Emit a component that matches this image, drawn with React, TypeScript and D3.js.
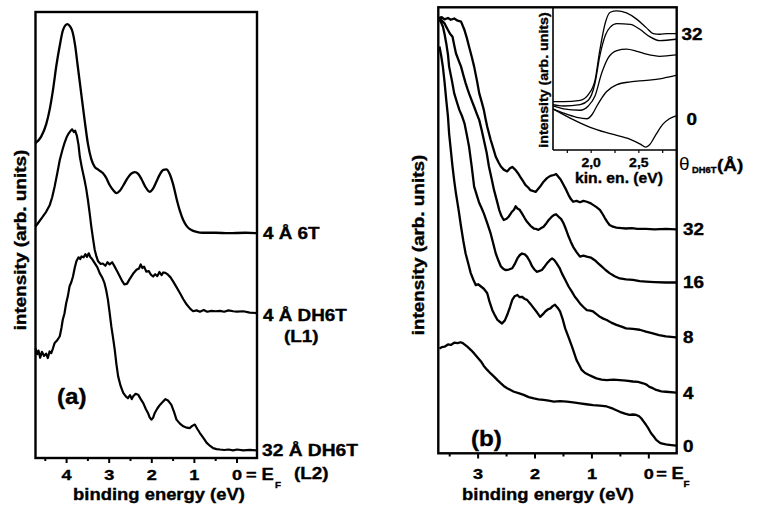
import React from "react";
import * as d3 from "d3";

// panel (a): binding energy (eV), intensity (arb.)
const a6T: [number, number][] = [
  [4.73, 70.6], [4.6, 72], [4.48, 74.8], [4.4, 78], [4.32, 82.5], [4.24, 88], [4.16, 92.5], [4.09, 95.8],
  [4.03, 97.0], [3.98, 97.3], [3.92, 96.8], [3.86, 95.5], [3.8, 92.5], [3.74, 88], [3.66, 82], [3.58, 76],
  [3.5, 70.5], [3.42, 67], [3.34, 65.3], [3.25, 64.6], [3.15, 63.9], [3.07, 62.8], [2.99, 61.2], [2.9, 60],
  [2.83, 59.4], [2.75, 59.9], [2.67, 61.1], [2.58, 62.6], [2.49, 63.7], [2.40, 64.1], [2.32, 63.7],
  [2.24, 62.5], [2.15, 60.8], [2.05, 59.7], [1.97, 60.4], [1.89, 62], [1.81, 63.6], [1.73, 64.6],
  [1.66, 64.7], [1.58, 63.7], [1.5, 61.4], [1.42, 58.2], [1.34, 55.4], [1.26, 53.3], [1.18, 52],
  [1.07, 51.1], [0.95, 50.7], [0.8, 50.5], [0.5, 50.5], [0.2, 50.4], [-0.2, 50.5], [-0.47, 50.4],
];

const aL1: [number, number][] = [
  [4.73, 51.9], [4.66, 52.8], [4.56, 54.1], [4.48, 55.2], [4.40, 56.6], [4.34, 58.4], [4.28, 60.9],
  [4.22, 63.8], [4.16, 66.8], [4.1, 69], [4.05, 70.6], [4.0, 71.9], [3.95, 72.8], [3.91, 73.3],
  [3.87, 73.7], [3.83, 73.1], [3.80, 73.4], [3.76, 72.3], [3.72, 70.2], [3.69, 67.6], [3.64, 65],
  [3.58, 62.4], [3.54, 60.4], [3.50, 57.9], [3.46, 55], [3.42, 51.9], [3.38, 49.2], [3.34, 46.7],
  [3.30, 45.2], [3.26, 44.1], [3.20, 43.5], [3.15, 43.6], [3.09, 43.1], [3.04, 43.9], [2.99, 43.4],
  [2.93, 43.9], [2.87, 42.9], [2.81, 41.8], [2.75, 40.7], [2.69, 39.6], [2.64, 38.9], [2.58, 39.1],
  [2.52, 40.1], [2.44, 41.3], [2.36, 42.2], [2.30, 42.5], [2.26, 43.4], [2.22, 42.6], [2.18, 42.9],
  [2.13, 41.8], [2.07, 41.9], [2.02, 41.1], [1.97, 40.7], [1.92, 41.2], [1.87, 40.8], [1.82, 41.7],
  [1.77, 41.0], [1.73, 41.6], [1.68, 41.5], [1.62, 41.1], [1.56, 40.5], [1.50, 39.6], [1.42, 38.3],
  [1.34, 37.0], [1.26, 35.6], [1.18, 34.4], [1.1, 33.5], [1.03, 32.9], [0.95, 33.1], [0.87, 32.8],
  [0.78, 33.2], [0.7, 32.8], [0.6, 33.0], [0.5, 32.9], [0.4, 33.0], [0.3, 32.8], [0.2, 33.1],
  [0.09, 32.9], [0.0, 32.8], [-0.15, 32.9], [-0.3, 32.6], [-0.47, 32.5],
];

const aL2: [number, number][] = [
  [4.73, 24.6], [4.69, 23.3], [4.66, 24.1], [4.62, 22.5], [4.58, 23.8], [4.53, 22.9], [4.48, 23.4],
  [4.44, 22.4], [4.40, 23.9], [4.36, 23.5], [4.32, 24.6], [4.28, 25.8], [4.22, 26.4], [4.16, 27.3],
  [4.12, 29.2], [4.09, 31.0], [4.05, 32.4], [4.01, 34.7], [3.97, 36.3], [3.93, 38.5], [3.89, 39.4],
  [3.85, 40.7], [3.81, 42.6], [3.77, 44.1], [3.72, 45.0], [3.68, 44.6], [3.65, 45.2], [3.6, 45.0],
  [3.56, 45.7], [3.52, 45.1], [3.48, 45.9], [3.44, 45.0], [3.40, 44.6], [3.34, 43.7], [3.28, 42.8],
  [3.22, 41.4], [3.16, 40.4], [3.11, 39.2], [3.07, 37.6], [3.03, 35.5], [2.99, 32.6], [2.95, 29.5],
  [2.91, 27.0], [2.87, 24.3], [2.83, 21.0], [2.79, 18.3], [2.73, 16.1], [2.67, 14.6], [2.61, 13.8],
  [2.56, 13.4], [2.51, 14.1], [2.47, 13.2], [2.44, 13.8], [2.38, 14.4], [2.32, 14.2], [2.26, 13.2],
  [2.20, 12.3], [2.14, 11.0], [2.09, 10.1], [2.05, 9.1], [2.01, 8.6], [1.97, 9.0], [1.93, 10.1],
  [1.87, 11.1], [1.81, 11.9], [1.74, 12.6], [1.68, 13.2], [1.62, 12.9], [1.58, 12.4], [1.54, 11.9],
  [1.48, 10.4], [1.42, 8.6], [1.34, 7.7], [1.26, 7.1], [1.18, 6.8], [1.11, 6.7], [1.05, 7.2],
  [0.99, 7.5], [0.93, 6.5], [0.87, 5.6], [0.79, 4.5], [0.71, 3.4], [0.63, 2.7], [0.56, 2.2],
  [0.48, 2.0], [0.40, 1.9], [0.3, 1.8], [0.2, 1.9], [0.09, 1.7], [0.0, 1.9], [-0.15, 1.7],
  [-0.3, 1.8], [-0.47, 1.7],
];

// panel (b): one spectrum per DH6T coverage
const b32: [number, number][] = [
  [3.68, 97.2], [3.64, 97.8], [3.59, 97.3], [3.53, 97.6], [3.48, 97.2], [3.42, 97.5], [3.36, 97.0],
  [3.30, 96.8], [3.24, 94.9], [3.2, 93.2], [3.16, 91.2], [3.11, 88.8], [3.07, 86.7], [3.02, 83.5],
  [2.98, 80.7], [2.94, 78.9], [2.90, 77.0], [2.87, 75.0], [2.84, 73.2], [2.78, 70.3], [2.73, 68.2],
  [2.69, 66.5], [2.64, 65.2], [2.60, 64.3], [2.55, 63.6], [2.49, 63.2], [2.44, 63.9], [2.40, 64.2],
  [2.34, 63.5], [2.30, 62.8], [2.26, 62.0], [2.21, 61.0], [2.17, 60.2], [2.12, 59.6], [2.08, 59.0],
  [2.03, 58.8], [1.99, 58.6], [1.95, 59.2], [1.91, 59.8], [1.85, 60.9], [1.79, 61.7], [1.73, 62.2],
  [1.67, 62.4], [1.63, 62.6], [1.59, 62.0], [1.55, 61.4], [1.50, 60.2], [1.45, 59.0], [1.41, 57.9],
  [1.37, 57.0], [1.33, 56.4], [1.27, 56.6], [1.21, 56.3], [1.15, 56.6], [1.09, 56.4], [1.03, 56.1],
  [0.98, 55.7], [0.92, 55.2], [0.86, 54.6], [0.81, 53.6], [0.77, 52.7], [0.73, 51.9], [0.69, 51.2],
  [0.63, 50.8], [0.57, 50.6], [0.48, 50.5], [0.40, 50.4], [0.3, 50.5], [0.2, 50.3], [0.05, 50.3],
  [-0.1, 50.2], [-0.3, 50.3], [-0.48, 50.2],
];

const b16: [number, number][] = [
  [3.68, 97.9], [3.64, 97.0], [3.59, 96.4], [3.56, 95.6], [3.53, 94.9], [3.49, 94.0], [3.45, 93.4],
  [3.42, 91.5], [3.39, 89.7], [3.34, 88.0], [3.30, 86.7], [3.26, 84.8], [3.22, 83.0], [3.19, 81.8],
  [3.16, 80.7], [3.11, 79.0], [3.07, 77.7], [3.02, 76.0], [2.98, 74.7], [2.94, 72.6], [2.90, 70.3],
  [2.85, 67.4], [2.81, 64.3], [2.76, 61.4], [2.72, 59.0], [2.67, 56.6], [2.63, 54.6], [2.59, 53.2],
  [2.55, 52.3], [2.50, 52.6], [2.46, 53.1], [2.41, 54.1], [2.37, 54.6], [2.34, 55.4], [2.31, 54.9],
  [2.27, 54.6], [2.23, 53.8], [2.18, 52.7], [2.14, 51.9], [2.08, 51.0], [2.02, 50.4], [1.98, 50.3],
  [1.94, 50.1], [1.89, 50.5], [1.85, 50.8], [1.80, 51.6], [1.76, 52.3], [1.71, 53.0], [1.67, 53.4],
  [1.63, 53.6], [1.59, 53.1], [1.54, 52.5], [1.50, 51.6], [1.45, 50.0], [1.41, 48.6], [1.37, 47.4],
  [1.33, 46.3], [1.27, 45.1], [1.21, 44.1], [1.15, 44.3], [1.09, 44.1], [1.02, 43.9], [0.95, 43.3],
  [0.89, 42.6], [0.83, 41.9], [0.76, 41.1], [0.69, 40.4], [0.6, 39.7], [0.51, 39.2], [0.4, 39.0],
  [0.28, 38.9], [0.16, 38.6], [0.05, 38.5], [-0.1, 38.4], [-0.3, 38.3], [-0.48, 38.3],
];

const b8: [number, number][] = [
  [3.68, 97.2], [3.65, 96.6], [3.62, 95.7], [3.59, 94.0], [3.56, 91.9], [3.53, 89.4], [3.51, 86.7],
  [3.46, 83.5], [3.42, 80.7], [3.37, 78.6], [3.33, 77.0], [3.28, 75.5], [3.24, 74.0], [3.20, 71.5],
  [3.16, 68.8], [3.11, 64.0], [3.07, 59.8], [3.02, 57.7], [2.98, 56.1], [2.94, 55.0], [2.90, 53.8],
  [2.84, 51.6], [2.78, 49.3], [2.73, 46.8], [2.69, 44.8], [2.64, 43.1], [2.60, 41.9], [2.56, 41.4],
  [2.52, 41.1], [2.46, 41.2], [2.40, 41.5], [2.35, 42.6], [2.31, 43.7], [2.27, 44.4], [2.23, 44.8],
  [2.18, 44.6], [2.14, 44.1], [2.09, 43.0], [2.05, 41.9], [2.01, 41.2], [1.97, 40.7], [1.92, 40.9],
  [1.88, 41.1], [1.83, 41.9], [1.79, 42.6], [1.74, 43.3], [1.70, 43.7], [1.66, 43.3], [1.62, 42.6],
  [1.57, 41.6], [1.53, 40.4], [1.47, 38.9], [1.41, 37.4], [1.35, 36.2], [1.30, 35.1], [1.25, 34.3],
  [1.21, 33.6], [1.15, 32.8], [1.09, 32.1], [1.03, 32.0], [0.98, 31.8], [0.92, 31.2], [0.86, 30.6],
  [0.80, 30.2], [0.74, 29.9], [0.66, 29.3], [0.57, 28.8], [0.48, 28.4], [0.40, 28.0], [0.28, 27.9],
  [0.16, 27.7], [0.05, 27.3], [-0.07, 26.9], [-0.18, 26.5], [-0.30, 26.2], [-0.48, 26.0],
];

const b4: [number, number][] = [
  [3.68, 91.2], [3.65, 89.2], [3.62, 86.7], [3.59, 83.2], [3.56, 79.2], [3.53, 75.5], [3.51, 71.7],
  [3.48, 68.0], [3.45, 64.3], [3.42, 61.1], [3.39, 58.3], [3.34, 54.3], [3.30, 50.8], [3.26, 47.6],
  [3.22, 44.8], [3.17, 42.4], [3.13, 40.4], [3.08, 38.8], [3.04, 37.7], [3.0, 37.9], [2.95, 37.4],
  [2.90, 36.9], [2.84, 35.9], [2.80, 34.0], [2.75, 32.1], [2.70, 30.8], [2.66, 29.9], [2.62, 29.5],
  [2.58, 29.1], [2.53, 29.8], [2.49, 31.0], [2.44, 32.8], [2.40, 34.4], [2.36, 35.2], [2.31, 35.5],
  [2.27, 35.0], [2.23, 35.1], [2.18, 34.6], [2.14, 34.4], [2.08, 33.5], [2.02, 32.5], [1.96, 31.5],
  [1.91, 30.6], [1.86, 31.2], [1.82, 31.8], [1.77, 32.3], [1.73, 32.5], [1.69, 33.0], [1.65, 33.3],
  [1.60, 32.6], [1.56, 31.8], [1.51, 29.9], [1.47, 28.0], [1.41, 26.0], [1.35, 23.9], [1.31, 22.4],
  [1.27, 20.9], [1.22, 19.7], [1.18, 18.7], [1.12, 18.0], [1.06, 17.6], [0.99, 17.2], [0.92, 16.8],
  [0.83, 16.5], [0.74, 16.4], [0.62, 16.5], [0.51, 16.4], [0.40, 16.3], [0.28, 16.1], [0.19, 16.0],
  [0.10, 15.7], [0.04, 15.4], [-0.01, 14.9], [-0.07, 14.6], [-0.13, 14.2], [-0.22, 13.9],
  [-0.30, 13.8], [-0.48, 13.6],
];

const b0: [number, number][] = [
  [3.68, 23.5], [3.64, 23.8], [3.59, 23.9], [3.53, 24.4], [3.48, 24.3], [3.42, 24.8], [3.36, 24.7],
  [3.31, 24.9], [3.27, 24.7], [3.23, 24.3], [3.19, 23.9], [3.13, 23.2], [3.07, 22.4], [3.01, 21.5],
  [2.95, 20.6], [2.9, 19.6], [2.84, 18.7], [2.78, 17.9], [2.72, 17.2], [2.66, 16.4], [2.60, 15.7],
  [2.55, 15.1], [2.49, 14.6], [2.43, 14.2], [2.37, 13.8], [2.29, 13.5], [2.20, 13.1], [2.11, 12.6],
  [2.02, 12.3], [1.94, 12.1], [1.85, 12.0], [1.76, 11.8], [1.67, 11.6], [1.56, 11.7], [1.44, 11.6],
  [1.33, 11.4], [1.21, 11.2], [1.10, 11.0], [0.98, 10.8], [0.86, 10.7], [0.74, 10.5], [0.63, 10.0],
  [0.51, 9.3], [0.42, 8.9], [0.34, 8.6], [0.28, 8.7], [0.22, 8.6], [0.17, 8.3], [0.13, 7.8],
  [0.09, 7.1], [0.05, 6.4], [0.0, 5.4], [-0.04, 4.5], [-0.09, 3.7], [-0.13, 3.0], [-0.18, 2.5],
  [-0.22, 2.2], [-0.30, 2.0], [-0.36, 1.9], [-0.48, 1.7],
];

const bSeries = [b32, b16, b8, b4, b0];
const bCoverage = ["32", "16", "8", "4", "0"];

// inset: kinetic energy (eV), intensity (arb.)
const in32: [number, number][] = [
  [1.6, 34], [1.71, 34], [1.885, 35], [1.97, 39], [2.04, 49], [2.09, 70], [2.15, 90], [2.2, 97],
  [2.27, 98], [2.37, 96.5], [2.48, 92], [2.58, 86], [2.65, 82], [2.72, 81.5], [2.8, 82], [2.89, 82],
];
const in16: [number, number][] = [
  [1.6, 32], [1.71, 31], [1.885, 32], [1.97, 35], [2.04, 47], [2.09, 66], [2.15, 81], [2.2, 86.5],
  [2.27, 89], [2.41, 88.5], [2.51, 85], [2.61, 80], [2.72, 77], [2.89, 78],
];
const in8: [number, number][] = [
  [1.6, 31], [1.71, 29], [1.885, 28], [1.97, 31], [2.04, 38], [2.11, 54], [2.18, 65], [2.27, 70],
  [2.37, 71], [2.48, 69.5], [2.58, 67.5], [2.72, 66], [2.89, 67],
];
const in4: [number, number][] = [
  [1.6, 29], [1.71, 26], [1.85, 23], [1.955, 22], [2.01, 25], [2.06, 31], [2.16, 41], [2.27, 46],
  [2.41, 48], [2.58, 49], [2.75, 50.5], [2.89, 52.5],
];
const in0: [number, number][] = [
  [1.6, 29], [1.78, 22.5], [1.99, 16], [2.2, 11.5], [2.41, 7.5], [2.52, 4], [2.57, 2], [2.61, 3.5],
  [2.68, 11], [2.75, 18], [2.82, 22], [2.89, 24],
];
const insetSeries = [in32, in16, in8, in4, in0];

const aTicks = [4, 3, 2, 1, 0];
const bTicks = [3, 2, 1, 0];
const insetTicks = ["2,0", "2,5"];
const aLabels = ["4 Å 6T", "4 Å DH6T", "32 Å DH6T"];

const FONT = "'Liberation Sans', Arial, Helvetica, sans-serif";

function T(props: any) {
  const { x, y, size, sx = 1.18, anchor = "start", rotate = 0, weight = "bold", children } = props;
  return (
    <text
      transform={`translate(${x},${y}) rotate(${rotate}) scale(${sx},1)`}
      fontFamily={FONT}
      fontSize={size}
      fontWeight={weight}
      textAnchor={anchor}
      fill="#000"
      stroke={weight === "bold" ? "#000" : "none"}
      strokeWidth={0.35}
    >
      {children}
    </text>
  );
}

export default function App() {
  // panel (a)
  const xa = d3.scaleLinear().domain([4.73, -0.47]).range([35.5, 257]);
  const ya = d3.scaleLinear().domain([0, 100]).range([458, 12]);
  // panel (b)
  const xb = d3.scaleLinear().domain([3.7, -0.49]).range([438.3, 676.7]);
  const yb = d3.scaleLinear().domain([0, 100]).range([453.3, 7.3]);
  // inset
  const xi = d3.scaleLinear().domain([1.6, 2.9]).range([553, 677]);
  const yi = d3.scaleLinear().domain([0, 100]).range([150, 8]);

  const lineA = d3.line<[number, number]>().x((d) => xa(d[0])).y((d) => ya(d[1]));
  const smoothA = d3.line<[number, number]>().x((d) => xa(d[0])).y((d) => ya(d[1])).curve(d3.curveMonotoneX);
  const lineB = d3.line<[number, number]>().x((d) => xb(d[0])).y((d) => yb(d[1]));
  const lineI = d3
    .line<[number, number]>()
    .x((d) => xi(d[0]))
    .y((d) => yi(d[1]))
    .curve(d3.curveMonotoneX);

  const aMinor = d3.range(0, 4.75, 0.5).filter((v) => v <= 4.73);
  const bMinor = d3.range(0, 3.7, 0.5);
  const iMinor = d3.range(1.75, 2.9, 0.25);

  return (
    <svg
      width={758}
      height={506}
      style={{ position: "absolute", left: 0, top: 0, background: "#fff" }}
    >
      <rect width={758} height={506} fill="#fff" />

      {/* ---------- panel (a) ---------- */}
      <path d={smoothA(a6T) || ""} fill="none" stroke="#000" strokeWidth={2.3} />
      <path d={lineA(aL1) || ""} fill="none" stroke="#000" strokeWidth={2.2} strokeLinejoin="round" />
      <path d={lineA(aL2) || ""} fill="none" stroke="#000" strokeWidth={2.2} strokeLinejoin="round" />
      <rect x={35.5} y={12} width={221.5} height={446} fill="none" stroke="#000" strokeWidth={2.4} />
      {aMinor.map((v) => (
        <line key={v} x1={xa(v)} x2={xa(v)} y1={458} y2={Number.isInteger(v) ? 463 : 461} stroke="#000" strokeWidth={2} />
      ))}
      {aTicks.map((v) => (
        <T key={v} x={xa(v)} y={480} size={14.5} anchor="middle" sx={1.25}>{v}</T>
      ))}
      <T x={xa(0) + 9} y={480} size={14.5} sx={1.25}>=</T>
      <T x={261.5} y={480} size={16} sx={1.15}>E</T>
      <T x={275} y={488} size={9} sx={1.1}>F</T>
      <T x={159} y={500} size={16.3} anchor="middle" sx={1.13}>binding energy (eV)</T>
      <T x={25.5} y={240} size={16.3} anchor="middle" rotate={-90} sx={1.16}>intensity (arb. units)</T>
      <T x={57} y={404} size={22} sx={1.1}>(a)</T>
      <T x={263} y={239} size={16} sx={1.18}>{aLabels[0]}</T>
      <T x={263} y={321} size={16} sx={1.18}>{aLabels[1]}</T>
      <T x={284} y={342} size={16} sx={1.18}>(L1)</T>
      <T x={262} y={456} size={16} sx={1.2}>{aLabels[2]}</T>
      <T x={294} y={479} size={16} sx={1.18}>(L2)</T>

      {/* ---------- panel (b) ---------- */}
      {bSeries.map((s, i) => (
        <path key={i} d={lineB(s) || ""} fill="none" stroke="#000" strokeWidth={2.3} strokeLinejoin="round" />
      ))}
      {bMinor.map((v) => (
        <line key={v} x1={xb(v)} x2={xb(v)} y1={453.3} y2={Number.isInteger(v) ? 458.5 : 456.5} stroke="#000" strokeWidth={2} />
      ))}
      {bTicks.map((v) => (
        <T key={v} x={xb(v)} y={479} size={14.5} anchor="middle" sx={1.25}>{v}</T>
      ))}
      <T x={xb(0) + 7.5} y={479} size={14.5} sx={1.25}>=</T>
      <T x={671.5} y={479} size={16} sx={1.15}>E</T>
      <T x={683.5} y={487} size={9} sx={1.1}>F</T>
      <T x={548} y={500} size={16.3} anchor="middle" sx={1.13}>binding energy (eV)</T>
      <T x={424} y={245} size={16.3} anchor="middle" rotate={-90} sx={1.16}>intensity (arb. units)</T>
      <T x={471} y={446} size={22} sx={1.1}>(b)</T>
      {bSeries.map((s, i) => (
        <T key={i} x={683} y={yb(s[s.length - 1][1]) + 6} size={16} sx={1.18}>{bCoverage[i]}</T>
      ))}

      {/* ---------- inset ---------- */}
      <rect x={553} y={7.3} width={123.7} height={142.7} fill="#fff" />
      {insetSeries.map((s, i) => (
        <path key={i} d={lineI(s) || ""} fill="none" stroke="#000" strokeWidth={1.3} />
      ))}
      <line x1={553} x2={553} y1={7.3} y2={150} stroke="#000" strokeWidth={1.6} />
      <line x1={553} x2={677} y1={150} y2={150} stroke="#000" strokeWidth={1.6} />
      {iMinor.map((v) => (
        <line key={v} x1={xi(v)} x2={xi(v)} y1={150} y2={153} stroke="#000" strokeWidth={1.2} />
      ))}
      <rect x={438.3} y={7.3} width={238.4} height={446} fill="none" stroke="#000" strokeWidth={2.4} />
      {[2.0, 2.5].map((v, i) => (
        <T key={v} x={xi(v)} y={167} size={12.5} anchor="middle" sx={1.12}>{insetTicks[i]}</T>
      ))}
      <T x={619} y={183} size={14} anchor="middle" sx={1.12}>kin. en. (eV)</T>
      <T x={547.5} y={80} size={13.5} anchor="middle" rotate={-90} sx={1.05}>intensity (arb. units)</T>
      <T x={681.5} y={40} size={16} sx={1.18}>{bCoverage[0]}</T>
      <T x={686.5} y={125} size={16} sx={1.18}>{bCoverage[4]}</T>
      <T x={679} y={170} size={19} weight="normal" sx={1.0}>θ</T>
      <T x={692} y={173} size={8.5} sx={1.1}>DH6T</T>
      <T x={717} y={171} size={17} sx={1.12}>(Å)</T>
    </svg>
  );
}
